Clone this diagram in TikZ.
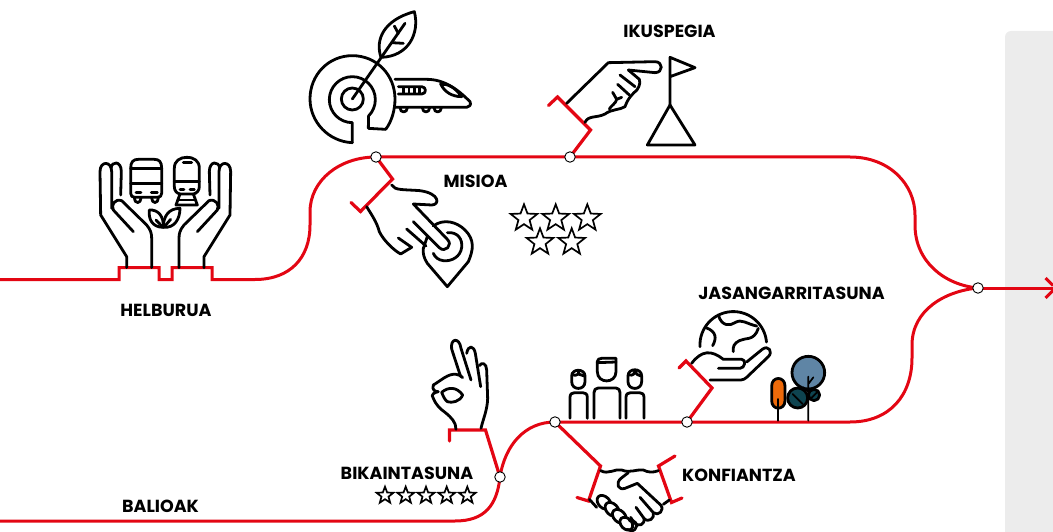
\documentclass[tikz,border=0pt]{standalone}
\usepackage{fontspec}
\setmainfont{Poppins}
\definecolor{rd}{HTML}{E30613}
\definecolor{panel}{HTML}{ECECEC}
\definecolor{bluetree}{HTML}{5F85A5}
\definecolor{darktree}{HTML}{0E4450}
\definecolor{orangetree}{HTML}{EE6A0A}
\pgfdeclarelayer{under}
\pgfsetlayers{under,main}
\tikzset{
  ink/.style={draw=black,line width=2.8pt,line cap=round,line join=round,fill=none},
  thin ink/.style={draw=black,line width=1.7pt,line cap=round,line join=round,fill=none},
  star ink/.style={draw=black,line width=1.7pt,line join=miter,miter limit=3,fill=none},
  route/.style={draw=rd,line width=3pt,line join=miter,fill=none},
  branch/.style={draw=rd,line width=3.2pt,line cap=round,line join=miter,fill=none},
  station/.style={circle,draw=black,fill=white,line width=0.9pt,minimum size=10.5pt,inner sep=0pt},
  lbl/.style={font=\fontsize{17.5}{19}\selectfont\bfseries,text=black,inner sep=0pt},
  zoomed/.style n args={2}{shift={(#1,#2)},x=0.33333pt,y=-0.33333pt},
  pics/starp/.style={code={
    \draw[star ink] (-90:#1) -- (-54:0.42*#1) -- (-18:#1) -- (18:0.42*#1) -- (54:#1) -- (90:0.42*#1) -- (126:#1) -- (162:0.42*#1) -- (198:#1) -- (234:0.42*#1) -- cycle;}}
}
\newcommand{\bighand}{%
  \draw[ink] (140,383) -- (140,350) -- (62,225) -- (60,95) .. controls (60,62) and (95,62) .. (95,95) -- (95,205);
  \draw[ink] (93,85) .. controls (95,62) and (124,62) .. (124,95) -- (122,165);
  \draw[ink] (160,275) -- (100,210) .. controls (92,195) and (105,175) .. (125,182) -- (200,255) .. controls (212,270) and (215,280) .. (215,295) -- (215,383);
}
\begin{document}
\begin{tikzpicture}[x=1pt,y=-1pt]
\useasboundingbox (0,0) rectangle (1053,532);

% stations
\node[station] (mis) at (376,157) {};
\node[station] (iku) at (570,157) {};
\node[station] (end) at (978,288) {};
\node[station] (jas) at (687,422) {};
\node[station] (kon) at (555,422) {};
\node[station] (bik) at (500,477) {};
\coordinate (west) at (0,279.5);
\coordinate (sw) at (0,521);
\coordinate (east) at (1053,288);

\begin{pgfonlayer}{under}
\fill[panel] (1053,31) -- (1011,31) arc[start angle=-90,end angle=-180,radius=6] -- (1005,532) -- (1053,532) -- cycle;
% main routes
\draw[route] (west) -- (119,279.5) -- (119,267.7) -- (159,267.7) -- (159,279.5) -- (172,279.5) -- (172,267.7) -- (212,267.7) -- (212,279.5) -- (255,279.5)
  .. controls (290,279.5) and (310,258) .. (310,225) -- (310,212)
  .. controls (310,180) and (340,157) .. (mis.center) -- (iku.center) -- (850,157)
  .. controls (890,157) and (915,185) .. (915,215) -- (915,225)
  .. controls (915,262) and (945,285) .. (end.center);
\draw[route] (sw) -- (455,521) .. controls (485,521) and (497,505) .. (bik.center)
  .. controls (505,445) and (525,422) .. (kon.center) -- (jas.center) -- (850,422)
  .. controls (890,422) and (912,395) .. (912,358) -- (912,345)
  .. controls (912,310) and (945,291) .. (end.center);
\draw[route] (end.center) -- (east);
\coordinate (tipa) at (1045.5,278);
\coordinate (tipb) at (1045.5,298);
\coordinate (tipc) at (1053,285.5);
\coordinate (tipd) at (1053,290.5);
\draw[route] (tipa) -- (tipc);
\draw[route] (tipb) -- (tipd);

% branches
\draw[branch] (mis.center) -- (392.5,179) -- (360.5,211.5) -- (351,202.5);
\draw[branch] (iku.center) -- (590.5,130) -- (557.5,97) -- (548.5,105.5);
\draw[branch] (jas.center) -- (712,388) -- (686,361) -- (679,368);
\draw[branch] (bik.center) -- (485.5,430) -- (449.5,430) -- (449.5,441);
\draw[branch] (kon.center) -- (600.5,466) -- (588.5,501) -- (577,497.5);
\draw[branch] (675,456) -- (658.5,466) -- (671.5,502.5) -- (682,498);
\end{pgfonlayer}

% HELBURUA icon
\begin{scope}[zoomed={80}{140}]
  \bighand
  \begin{scope}[shift={(512,0)},xscale=-1]\bighand\end{scope}
  \draw[ink] (152,85) .. controls (152,65) and (160,58) .. (175,58) -- (222,58) .. controls (238,58) and (245,65) .. (245,85) -- (245,160) .. controls (245,168) and (240,172) .. (232,172) -- (165,172) .. controls (157,172) and (152,168) .. (152,160) -- cycle;
  \draw[ink] (152,130) -- (245,130);
  \draw[ink] (152,85) -- (245,85);
  \draw[ink] (168,158) -- (183,158) (214,158) -- (232,158);
  \draw[ink] (163,174) .. controls (163,192) and (183,192) .. (183,174);
  \draw[ink] (215,174) .. controls (215,192) and (235,192) .. (235,174);
  \draw[ink] (283,140) -- (283,85) .. controls (283,62) and (300,52) .. (320,52) .. controls (342,52) and (358,62) .. (358,85) -- (358,140) .. controls (358,152) and (350,160) .. (340,162) -- (300,162) .. controls (290,160) and (283,152) .. (283,140) -- cycle;
  \draw[ink] (283,125) -- (358,125);
  \draw[ink] (310,68) -- (335,68);
  \draw[ink] (300,148) -- (312,148) (330,148) -- (343,148);
  \draw[ink] (300,162) -- (288,195) -- (352,195) -- (340,162);
  \draw[ink] (293,180) -- (346,180);
  \draw[ink] (250,262) .. controls (215,262) and (205,235) .. (208,210) .. controls (235,208) and (252,230) .. (250,262) -- cycle;
  \draw[ink] (250,262) .. controls (285,265) and (300,235) .. (300,205) .. controls (265,205) and (250,230) .. (250,262) -- cycle;
  \draw[ink] (228,240) -- (245,258) (272,238) -- (255,258);
\end{scope}

% top icon: target, leaf and train
\begin{scope}[zoomed={295}{0}]
  \draw[ink] (172,428) -- (172,368) arc[start angle=90,end angle=405,radius=69] -- (220,385) -- (272,388);
  \draw[ink] (172,428) .. controls (100,425) and (45,365) .. (45,297) .. controls (45,225) and (100,167) .. (172,167) .. controls (245,167) and (300,225) .. (300,297) .. controls (300,330) and (290,365) .. (272,388);
  \draw[ink] (172,297) circle[radius=33];
  \draw[ink] (172,297) -- (330,70);
  \draw[ink] (258,172) .. controls (240,120) and (265,60) .. (358,35) .. controls (375,100) and (340,170) .. (258,172) -- cycle;
  \draw[ink] (290,128) -- (325,130) (298,78) -- (310,100);
  \draw[ink] (300,238) -- (395,238) .. controls (450,238) and (490,270) .. (525,305) .. controls (530,315) and (522,322) .. (515,322) -- (300,322);
  \draw[ink] (310,260) -- (380,260) .. controls (395,260) and (395,282) .. (380,282) -- (310,282);
  \draw[ink] (325,262) -- (325,280) (342,262) -- (342,280) (358,262) -- (358,280) (374,262) -- (374,280);
  \draw[ink] (437,252) .. controls (448,275) and (470,290) .. (500,290) .. controls (480,262) and (460,252) .. (437,252) -- cycle;
  \draw[ink] (315,323) .. controls (315,340) and (337,340) .. (337,323);
  \draw[ink] (382,323) .. controls (382,340) and (404,340) .. (404,323);
  \draw[ink] (417,323) .. controls (417,340) and (439,340) .. (439,323);
\end{scope}

% IKUSPEGIA icon
\begin{scope}[zoomed={540}{40}]
  \draw[ink] (80,190) -- (205,68) -- (345,65) .. controls (370,65) and (370,98) .. (345,98) -- (265,90) -- (298,118) .. controls (303,130) and (295,150) .. (282,158) .. controls (270,170) and (262,180) .. (255,200) .. controls (240,210) and (215,207) .. (195,222) .. controls (170,235) and (145,225) .. (135,247);
  \draw[ink] (240,105) -- (285,140) (233,133) -- (268,165);
  \draw[ink] (218,157) -- (230,178) -- (245,172) (230,178) .. controls (228,190) and (215,195) .. (208,207);
  \draw[ink] (390,195) -- (390,52) -- (465,83) -- (390,110);
  \draw[ink] (390,195) -- (465,315) -- (322,315) -- cycle;
\end{scope}

% MISIOA icon
\begin{scope}[zoomed={340}{150}]
  \draw[ink] (155,105) .. controls (165,122) and (190,118) .. (240,122) .. controls (300,130) and (300,165) .. (275,165) -- (220,162) -- (322,268) .. controls (340,285) and (315,310) .. (298,293) -- (220,215);
  \draw[ink] (200,237) -- (258,288);
  \draw[ink] (175,264) -- (215,292) -- (182,312) .. controls (160,300) and (130,270) .. (118,245) .. controls (110,215) and (95,195) .. (80,170);
  \draw[ink] (250,295) .. controls (252,290) and (255,280) .. (262,260);
  \draw[ink] (280,228) .. controls (310,205) and (350,215) .. (375,240) .. controls (405,270) and (400,300) .. (385,335) -- (322,410) -- (262,340) .. controls (252,325) and (248,310) .. (250,295);
  \draw[ink] (322,248) .. controls (355,245) and (368,270) .. (365,292) .. controls (362,320) and (335,335) .. (310,332) .. controls (295,330) and (285,322) .. (280,310);
\end{scope}
\path (524,218.3) pic {starp=14} (555.7,218.3) pic {starp=14} (587.3,218.3) pic {starp=14}
  (540,242.3) pic {starp=14} (571.7,242.3) pic {starp=14};

% JASANGARRITASUNA icon, people and trees
\begin{scope}[zoomed={550}{300}]
  \draw[ink] (60,355) -- (60,292) .. controls (60,282) and (66,278) .. (74,278) -- (98,278) .. controls (106,278) and (112,282) .. (112,292) -- (112,355);
  \draw[ink] (65,228) .. controls (65,205) and (105,205) .. (105,228) -- (105,245) .. controls (105,272) and (65,272) .. (65,245) -- cycle;
  \draw[ink] (68,225) .. controls (80,228) and (90,222) .. (85,212) (85,222) -- (103,228);
  \draw[ink] (132,355) -- (132,278) .. controls (132,270) and (136,264) .. (145,264) -- (198,264) .. controls (206,264) and (210,270) .. (210,278) -- (210,355);
  \draw[ink] (142,185) .. controls (142,178) and (148,175) .. (155,175) -- (198,175) -- (198,215) .. controls (198,252) and (142,252) .. (142,215) -- cycle;
  \draw[ink] (142,188) -- (198,186);
  \draw[ink] (228,355) -- (228,292) .. controls (228,282) and (234,278) .. (242,278) -- (268,278) .. controls (276,278) and (282,282) .. (282,292) -- (282,355);
  \draw[ink] (234,228) .. controls (234,203) and (275,203) .. (275,228) -- (275,245) .. controls (275,272) and (234,272) .. (234,245) -- cycle;
  \draw[ink] (237,225) .. controls (250,228) and (255,220) .. (255,212) .. controls (258,222) and (265,228) .. (273,228);
  \draw[ink] (450,140) arc[start angle=177,end angle=355,radius=100];
  \draw[ink] (505,45) .. controls (515,80) and (540,78) .. (555,68) .. controls (575,55) and (590,72) .. (620,78);
  \draw[ink] (468,83) .. controls (500,95) and (500,115) .. (488,137);
  \draw[ink] (625,85) .. controls (612,125) and (585,112) .. (568,122) .. controls (552,130) and (548,140) .. (550,155);
  \draw[ink] (425,190) .. controls (455,150) and (485,150) .. (520,178) -- (575,178) .. controls (590,178) and (585,205) .. (570,205) -- (505,205);
  \draw[ink] (590,186) -- (638,147) .. controls (655,135) and (670,155) .. (655,170) -- (590,232) .. controls (580,242) and (570,240) .. (550,240) -- (480,240);
  \draw[ink,fill=orangetree] (665,258) .. controls (665,228) and (705,228) .. (705,258) -- (705,302) .. controls (705,332) and (665,332) .. (665,302) -- cycle;
  \draw[thin ink] (685,297) -- (685,362);
  \draw[ink,fill=bluetree] (775,218) circle[radius=49];
  \draw[ink,fill=darktree] (743,294) circle[radius=30];
  \draw[ink,fill=darktree] (792,285) circle[radius=17];
  \draw[thin ink] (775,230) -- (775,362) (775,252) -- (790,232) (775,275) -- (760,262) (780,298) -- (800,278) (728,282) -- (758,312);
\end{scope}

% BIKAINTASUNA icon
\begin{scope}[zoomed={370}{335}]
  \draw[ink] (258,283) .. controls (258,262) and (245,248) .. (225,232) .. controls (210,222) and (195,205) .. (190,190) .. controls (180,178) and (195,172) .. (205,170) .. controls (195,170) and (185,165) .. (190,150) .. controls (215,135) and (235,115) .. (258,118) .. controls (268,120) and (275,122) .. (278,128);
  \draw[ink] (272,125) -- (245,42) .. controls (240,10) and (268,5) .. (273,40) -- (303,135);
  \draw[ink] (290,55) .. controls (295,28) and (312,32) .. (316,55) -- (332,155);
  \draw[ink] (328,92) .. controls (335,80) and (350,85) .. (350,105) -- (353,190) .. controls (352,225) and (340,250) .. (333,280);
  \draw[ink] (215,172) .. controls (235,155) and (260,155) .. (278,180) .. controls (270,200) and (245,205) .. (232,200) .. controls (225,195) and (220,185) .. (215,172) -- cycle;
\end{scope}
\path (385,495.5) pic {starp=8.8} (405.7,495.5) pic {starp=8.8} (426,495.5) pic {starp=8.8}
  (446.7,495.5) pic {starp=8.8} (467.3,495.5) pic {starp=8.8};

% KONFIANTZA icon
\begin{scope}[zoomed={540}{410}]
  \draw[ink] (182,182) .. controls (205,195) and (225,175) .. (245,180) .. controls (270,190) and (285,178) .. (310,180) .. controls (325,188) and (340,188) .. (355,182);
  \draw[ink] (148,268) -- (170,292);
  \draw[ink] (265,188) -- (243,205) .. controls (225,220) and (235,242) .. (255,235) -- (292,220) -- (362,285) .. controls (375,300) and (355,320) .. (340,308) -- (300,262);
  \draw[ink] (340,308) .. controls (345,325) and (325,340) .. (312,325) -- (288,292);
  \draw[ink] (312,325) .. controls (315,345) and (295,352) .. (282,338) -- (272,322);
  \draw[ink] (370,283) -- (388,270);
  \draw[ink,fill=white] (192,277) ellipse[x radius=24,y radius=17,rotate=-45];
  \draw[ink,fill=white] (216,298) ellipse[x radius=24,y radius=17,rotate=-45];
  \draw[ink,fill=white] (238,319) ellipse[x radius=24,y radius=17,rotate=-45];
  \draw[ink,fill=white] (259,341) ellipse[x radius=22,y radius=16,rotate=-45];
  \draw[ink] (268,332) .. controls (285,328) and (297,345) .. (285,358) .. controls (278,365) and (268,362) .. (262,358);
\end{scope}

% labels
\node[lbl] (l1) at (166,310) {HELBURUA};
\node[lbl] (l2) at (669.5,31) {IKUSPEGIA};
\node[lbl] (l3) at (475.5,181) {MISIOA};
\node[lbl] (l4) at (791.5,293) {JASANGARRITASUNA};
\node[lbl] (l5) at (407,473) {BIKAINTASUNA};
\node[lbl] (l6) at (739,475) {KONFIANTZA};
\node[lbl] (l7) at (160.5,506) {BALIOAK};
\end{tikzpicture}
\end{document}
